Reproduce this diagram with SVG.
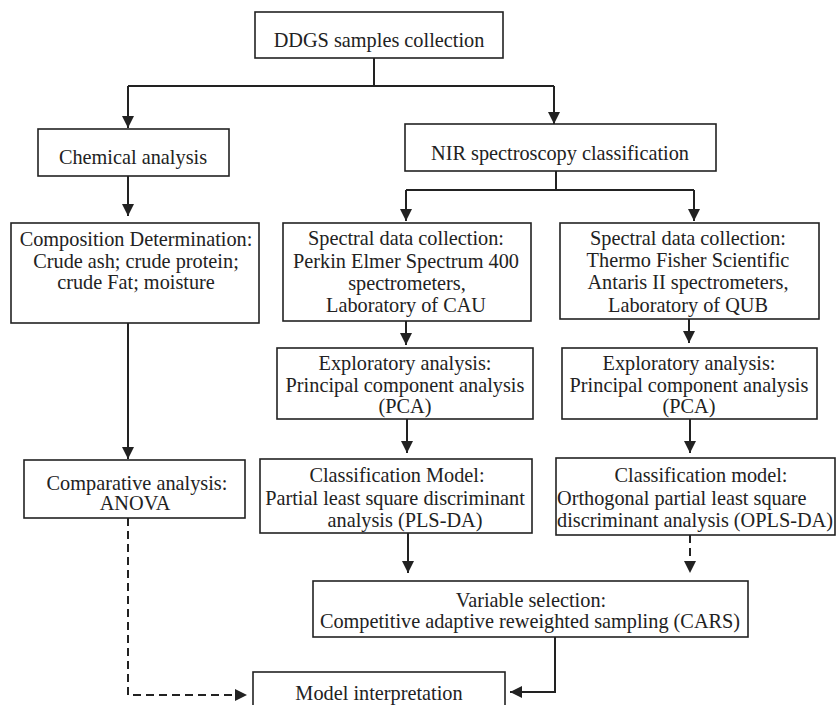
<svg xmlns="http://www.w3.org/2000/svg" width="836" height="705" viewBox="0 0 836 705">
<style>
.box{fill:#fff;stroke:#222;stroke-width:1.6}
text{font-family:'Liberation Serif','Times New Roman',serif;font-size:20.3px;fill:#222;text-anchor:middle}
.l{text-anchor:start}
.c{fill:none;stroke:#222;stroke-width:2}
.d{stroke-dasharray:8 5}
</style>
<defs>
<marker id="ah" markerUnits="userSpaceOnUse" markerWidth="12" markerHeight="12" refX="12" refY="6" orient="auto" viewBox="0 0 12 12">
<path d="M0,0 L12,6 L0,12 z" fill="#222"/>
</marker>
</defs>
<rect width="836" height="705" fill="#fff"/>
<g id="connectors">
<path class="c" d="M374,58 V86"/>
<path class="c" d="M128,86 H554" />
<path class="c" d="M128,86 V128" marker-end="url(#ah)"/>
<path class="c" d="M554,86 V124" marker-end="url(#ah)"/>
<path class="c" d="M128,176 V216" marker-end="url(#ah)"/>
<path class="c" d="M128,323 V459" marker-end="url(#ah)"/>
<path class="c" d="M556,171 V190"/>
<path class="c" d="M406,190 H694"/>
<path class="c" d="M406,190 V221" marker-end="url(#ah)"/>
<path class="c" d="M694,190 V221" marker-end="url(#ah)"/>
<path class="c" d="M406,321 V345" marker-end="url(#ah)"/>
<path class="c" d="M689,319 V343" marker-end="url(#ah)"/>
<path class="c" d="M407,419 V453" marker-end="url(#ah)"/>
<path class="c" d="M690,419 V453" marker-end="url(#ah)"/>
<path class="c" d="M408,533 V573" marker-end="url(#ah)"/>
<path class="c d" d="M690,535 V573" marker-end="url(#ah)"/>
<path class="c" d="M555,637 V692 H510" marker-end="url(#ah)"/>
<path class="c d" d="M128,518 V695 H247" marker-end="url(#ah)"/>
</g>
<g id="ddgs">
<rect class="box" x="255" y="12" width="248" height="46"/>
<text x="379" y="47">DDGS samples collection</text>
</g>
<g id="chemical">
<rect class="box" x="38" y="129" width="191" height="47"/>
<text x="133" y="164">Chemical analysis</text>
</g>
<g id="nir">
<rect class="box" x="405" y="124" width="311" height="47"/>
<text x="560" y="160">NIR spectroscopy classification</text>
</g>
<g id="composition">
<rect class="box" x="11" y="223" width="248" height="100"/>
<text x="136" y="246">Composition Determination:</text>
<text x="136" y="268">Crude ash; crude protein;</text>
<text x="136" y="289">crude Fat; moisture</text>
</g>
<g id="spectral-cau">
<rect class="box" x="283" y="223" width="248" height="98"/>
<text x="406" y="245">Spectral data collection:</text>
<text x="406" y="268">Perkin Elmer Spectrum 400</text>
<text x="407" y="290">spectrometers,</text>
<text x="406" y="312">Laboratory of CAU</text>
</g>
<g id="spectral-qub">
<rect class="box" x="560" y="223" width="259" height="96"/>
<text x="688" y="245">Spectral data collection:</text>
<text x="688" y="267">Thermo Fisher Scientific</text>
<text x="688" y="289">Antaris II spectrometers,</text>
<text x="688" y="312">Laboratory of QUB</text>
</g>
<g id="pca-cau">
<rect class="box" x="277" y="348" width="256" height="71"/>
<text x="405" y="370">Exploratory analysis:</text>
<text x="405" y="392">Principal component analysis</text>
<text x="405" y="413">(PCA)</text>
</g>
<g id="pca-qub">
<rect class="box" x="562" y="348" width="255" height="71"/>
<text x="689" y="370">Exploratory analysis:</text>
<text x="689" y="392">Principal component analysis</text>
<text x="689" y="413">(PCA)</text>
</g>
<g id="comparative">
<rect class="box" x="24" y="460" width="221" height="58"/>
<text x="137" y="490">Comparative analysis:</text>
<text x="135" y="510">ANOVA</text>
</g>
<g id="plsda">
<rect class="box" x="260" y="459" width="272" height="74"/>
<text x="397" y="482">Classification Model:</text>
<text x="395" y="505">Partial least square discriminant</text>
<text x="405" y="527">analysis (PLS-DA)</text>
</g>
<g id="oplsda">
<rect class="box" x="556" y="458" width="279" height="77"/>
<text x="701" y="482">Classification model:</text>
<text class="l" x="557" y="505">Orthogonal partial least square</text>
<text class="l" x="557" y="527">discriminant analysis (OPLS-DA)</text>
</g>
<g id="cars">
<rect class="box" x="313" y="581" width="435" height="56"/>
<text x="531" y="607">Variable selection:</text>
<text x="530" y="628">Competitive adaptive reweighted sampling (CARS)</text>
</g>
<g id="model">
<rect class="box" x="253" y="672" width="252" height="40"/>
<text x="379" y="700">Model interpretation</text>
</g>
</svg>
